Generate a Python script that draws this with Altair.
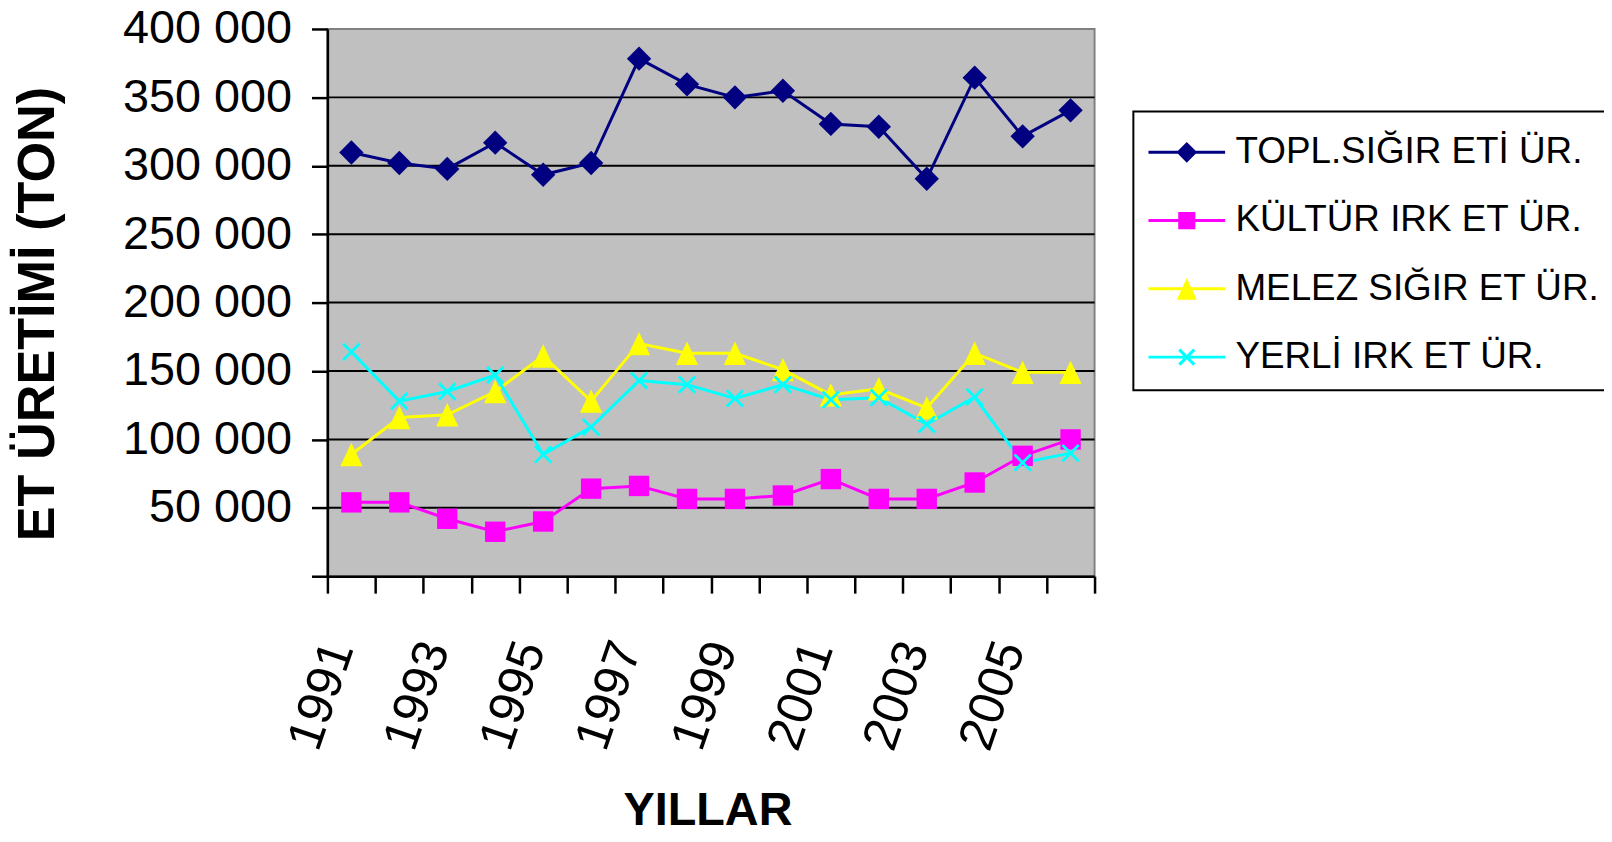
import altair as alt
import pandas as pd

# ---------------- data ----------------
years = list(range(1991, 2007))
series_names = ["TOPL.SIĞIR ETİ ÜR.", "KÜLTÜR IRK ET ÜR.", "MELEZ SIĞIR ET ÜR.", "YERLİ IRK ET ÜR."]
topl = [309700, 302000, 297700, 316900, 293400, 302000, 378300, 359500,
        350000, 354800, 330600, 328500, 290500, 364400, 321500, 340500]
kultur = [54000, 54000, 42000, 32500, 40000, 64000, 66000, 56500,
          56500, 59000, 71000, 56500, 56500, 68500, 88000, 100000]
melez = [89000, 116000, 118000, 135000, 161000, 128000, 170000, 163000,
         163000, 151000, 132500, 137000, 123000, 163000, 149000, 149000]
yerli = [164000, 128000, 135000, 147000, 89000, 109000, 143000, 140000,
         130000, 140000, 129000, 130500, 111000, 131000, 83000, 90000]
y_ticks = [0, 50000, 100000, 150000, 200000, 250000, 300000, 350000, 400000]
grid_values = [50000, 100000, 150000, 200000, 250000, 300000, 350000]
x_label_years = [1991, 1993, 1995, 1997, 1999, 2001, 2003, 2005]

colors = ["#000080", "#FF00FF", "#FFFF00", "#00FFFF"]

rows = []
for name, vals in zip(series_names, [topl, kultur, melez, yerli]):
    for y, v in zip(years, vals):
        rows.append({"year": y, "value": v, "series": name})
df = pd.DataFrame(rows)
grid_df = pd.DataFrame({"value": grid_values})

x_tick_vals = [years[0] - 0.5 + i for i in range(len(years) + 1)]
x_label_set = "[" + ",".join(str(y - 0.5) for y in x_label_years) + "]"

# ---------------- legend symbol paths ----------------
SYM = 51.4            # legend symbol box (px)
U = SYM / 2.0         # px per path unit
DXp, DYp = 12.9, 0.2  # shift of the drawn symbol (px)


def P(xp, yp):
    return f"{(xp + DXp) / U:.4f},{(yp + DYp) / U:.4f}"


def poly(pts):
    return "M" + "L".join(P(x, y) for x, y in pts) + "Z"


line_part = poly([(-38.5, -1.5), (38.5, -1.5), (38.5, 1.5), (-38.5, 1.5)])
diamond_p = poly([(0, -10.4), (10.4, 0), (0, 10.4), (-10.4, 0)])
square_p = poly([(-8.6, -8.6), (8.6, -8.6), (8.6, 8.6), (-8.6, 8.6)])
tri_p = poly([(0, -11), (10, 11), (-10, 11)])
a, d = 7.5, 1.1
cross_p = (poly([(-a + d, -a - d), (a + d, a - d), (a - d, a + d), (-a - d, -a + d)])
           + poly([(-a - d, a - d), (a - d, -a - d), (a + d, -a + d), (-a + d, a + d)]))
legend_shapes = [line_part + diamond_p, line_part + square_p, line_part + tri_p, line_part + cross_p]

SANS = "Liberation Sans, Arial"

color_scale = alt.Scale(domain=series_names, range=colors)

x_enc = alt.X(
    "year:Q",
    scale=alt.Scale(domain=[years[0] - 0.5, years[-1] + 0.5], nice=False, zero=False),
    axis=alt.Axis(
        values=x_tick_vals,
        labelExpr=f"indexof({x_label_set}, datum.value) >= 0 ? format(datum.value + 0.5, 'd') : ''",
        labelAngle=289, labelAlign="right", labelBaseline="middle",
        labelFont=SANS, labelFontSize=50, labelColor="black",
        labelOffset=12, labelPadding=50, labelOverlap=False, labelFlush=False, labelLimit=0,
        tickSize=17, tickWidth=2.5, tickColor="black",
        domainColor="black", domainWidth=2.5, grid=False,
        title="YILLAR", titleFont=SANS, titleFontSize=47, titleFontWeight="bold",
        titleColor="black", titleX=382, titleY=250, titleAlign="center",
        titleBaseline="alphabetic", titleAnchor="start",
    ),
)

y_enc = alt.Y(
    "value:Q",
    scale=alt.Scale(domain=[0, 400000], nice=False),
    axis=alt.Axis(
        values=y_ticks,
        labelExpr="datum.value == 0 ? '' : replace(format(datum.value, ','), /,/g, ' ')",
        labelFont=SANS, labelFontSize=47, labelColor="black", labelPadding=20,
        labelBaseline="middle", labelLimit=0,
        tickSize=16, tickWidth=2.5, tickColor="black",
        domainColor="black", domainWidth=2.5, grid=False,
        title="ET ÜRETİMİ (TON)", titleFont=SANS, titleFontSize=52.5, titleFontWeight="bold",
        titleColor="black", titleAngle=270, titleX=-275, titleY=286, titleAlign="center",
        titleBaseline="alphabetic", titleAnchor="start",
    ),
)

base = alt.Chart(df)

grid = alt.Chart(grid_df).mark_rule(color="black", strokeWidth=2).encode(
    y=alt.Y("value:Q", scale=alt.Scale(domain=[0, 400000], nice=False))
)

lines = base.mark_line(strokeWidth=3).encode(
    x=x_enc, y=y_enc,
    color=alt.Color("series:N", scale=color_scale, legend=None),
    detail="series:N",
)


def pts(name, **mk):
    return base.transform_filter(alt.datum.series == name).mark_point(**mk).encode(
        x="year:Q", y="value:Q",
        color=alt.Color("series:N", scale=color_scale, legend=None),
    )


p_topl = pts(series_names[0], shape="diamond", filled=True, size=600, opacity=1, strokeWidth=0)
p_kult = pts(series_names[1], shape="square", filled=True, size=420, opacity=1, strokeWidth=0)
p_mel = pts(series_names[2], shape="M0,-1.05L1,1.05L-1,1.05Z", filled=True, size=500, opacity=1, strokeWidth=0)
p_yer = pts(series_names[3], shape="M-1,-1L1,1M-1,1L1,-1", filled=False, size=270, opacity=1, strokeWidth=2.8)

leg = alt.Legend(
    orient="none", legendX=810, legendY=83, padding=14.8,
    strokeColor="black", fillColor="white",
    rowPadding=24.6, labelFont=SANS, labelFontSize=37, labelColor="black",
    labelOffset=35.8, labelLimit=0, symbolStrokeWidth=0, symbolSize=SYM * SYM,
    title=None, symbolOpacity=1,
)

legend_layer = base.transform_filter("datum.value < 0").mark_point(
    filled=True, size=SYM * SYM, opacity=1, strokeWidth=0
).encode(
    x="year:Q", y="value:Q",
    color=alt.Color("series:N", scale=color_scale, legend=leg),
    shape=alt.Shape("series:N", scale=alt.Scale(domain=series_names, range=legend_shapes), legend=leg),
)

chart = alt.layer(legend_layer, grid, lines, p_topl, p_kult, p_mel, p_yer).resolve_scale(
    color="independent", shape="independent"
).properties(
    width=771, height=550,
    autosize=alt.AutoSizeParams(type="none"),
    padding={"left": 321, "top": 19, "right": 512, "bottom": 257},
    background="white",
).configure_view(
    fill="#C0C0C0", stroke="#808080", strokeWidth=2
).configure_legend(strokeWidth=2)

chart.save("out.html", embed_options={"renderer": "svg", "actions": False})
